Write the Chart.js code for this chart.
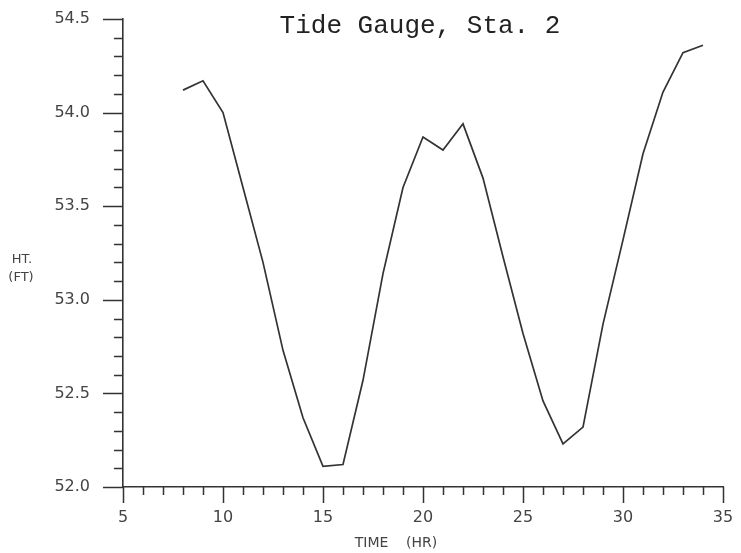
<!DOCTYPE html>
<html>
<head>
<meta charset="utf-8">
<title>Tide Gauge, Sta. 2</title>
<script src="https://cdn.jsdelivr.net/npm/chart.js@4"></script>
<style>
  html, body { margin: 0; padding: 0; background: #fff; }
  #tideChart { display: block; }
</style>
</head>
<body>
<canvas id="tideChart" width="741" height="553"></canvas>
<script>
// --- data ---
const hours = [8, 9, 10, 11, 12, 13, 14, 15, 16, 17, 18, 19, 20, 21, 22, 23, 24, 25, 26, 27, 28, 29, 30, 31, 32, 33, 34];
const heights = [54.12, 54.17, 54.00, 53.60, 53.20, 52.73, 52.37, 52.11, 52.12, 52.57, 53.14, 53.60, 53.87, 53.80, 53.94, 53.65, 53.23, 52.82, 52.46, 52.23, 52.32, 52.87, 53.32, 53.78, 54.11, 54.32, 54.36];
const xTickLabels = [5, 10, 15, 20, 25, 30, 35];
const yTickLabels = [52.0, 52.5, 53.0, 53.5, 54.0, 54.5];

const ink = '#333';

// plotter style tick marks + free text
const plotterDecor = {
    id: 'plotterDecor',
    afterDraw(chart) {
        const c = chart.ctx;
        const xs = chart.scales.x;
        const ys = chart.scales.y;
        const left = chart.chartArea.left;
        const bottom = chart.chartArea.bottom;
        c.save();
        c.strokeStyle = ink;
        c.lineWidth = 1.5;
        c.beginPath();
        // x ticks, every hour, longer every 5
        for (let h = xs.min; h <= xs.max; h++) {
            const px = Math.round(xs.getPixelForValue(h)) + 0.5;
            const len = (h % 5 === 0) ? 16 : 8;
            c.moveTo(px, bottom);
            c.lineTo(px, bottom + len);
        }
        // y ticks, every 0.1 ft, longer every 0.5
        for (let i = 0; i <= Math.round((ys.max - ys.min) * 10); i++) {
            const v = ys.min + i / 10;
            const py = Math.round(ys.getPixelForValue(v)) + 0.5;
            const len = (i % 5 === 0) ? 20 : 9;
            c.moveTo(left, py);
            c.lineTo(left - len, py);
        }
        c.stroke();

        c.fillStyle = '#222';
        c.textAlign = 'center';
        c.textBaseline = 'alphabetic';
        c.font = '26px "Liberation Mono", "Courier New", monospace';
        c.fillText('Tide Gauge, Sta. 2', 420, 33);

        c.fillStyle = '#444';
        c.font = '13px "DejaVu Sans", sans-serif';
        c.fillText('HT.', 22, 263);
        c.fillText('(FT)', 21, 281);
        c.font = '14px "DejaVu Sans", sans-serif';
        c.fillText('TIME    (HR)', 396, 547);
        c.restore();
    }
};

document.addEventListener('DOMContentLoaded', () => {

    const tideCtx = document.getElementById('tideChart');
    new Chart(tideCtx, {
        type: 'line',
        data: {
            labels: hours,
            datasets: [{
                label: 'HT. (FT)',
                data: hours.map((h, i) => ({ x: h, y: heights[i] })),
                borderColor: ink,
                borderWidth: 1.7,
                pointRadius: 0,
                tension: 0,
                fill: false
            }]
        },
        options: {
            responsive: false,
            animation: false,
            layout: { padding: { top: 19, right: 18, left: 0, bottom: 0 } },
            plugins: {
                legend: { display: false },
                title: { display: false },
                tooltip: { enabled: false }
            },
            scales: {
                x: {
                    type: 'linear',
                    min: 5,
                    max: 35,
                    afterBuildTicks: (scale) => { scale.ticks = xTickLabels.map(v => ({ value: v })); },
                    afterFit: (scale) => { scale.height = 66; },
                    // grid hidden; tick marks drawn by plotterDecor, tickLength only spaces the labels
                    grid: { display: false, drawTicks: true, tickLength: 18 },
                    border: { display: true, color: ink, width: 1.6 },
                    ticks: {
                        padding: 3,
                        color: '#444',
                        font: { family: '"DejaVu Sans", sans-serif', size: 16 },
                        maxRotation: 0
                    }
                },
                y: {
                    min: 52,
                    max: 54.5,
                    afterBuildTicks: (scale) => { scale.ticks = yTickLabels.map(v => ({ value: v })); },
                    afterFit: (scale) => { scale.width = 123; },
                    grid: { display: false, drawTicks: true, tickLength: 30 },
                    border: { display: true, color: ink, width: 1.6 },
                    ticks: {
                        padding: 3,
                        color: '#444',
                        font: { family: '"DejaVu Sans", sans-serif', size: 16 },
                        callback: (v) => Number(v).toFixed(1)
                    }
                }
            }
        },
        plugins: [plotterDecor]
    });

});
</script>
</body>
</html>
